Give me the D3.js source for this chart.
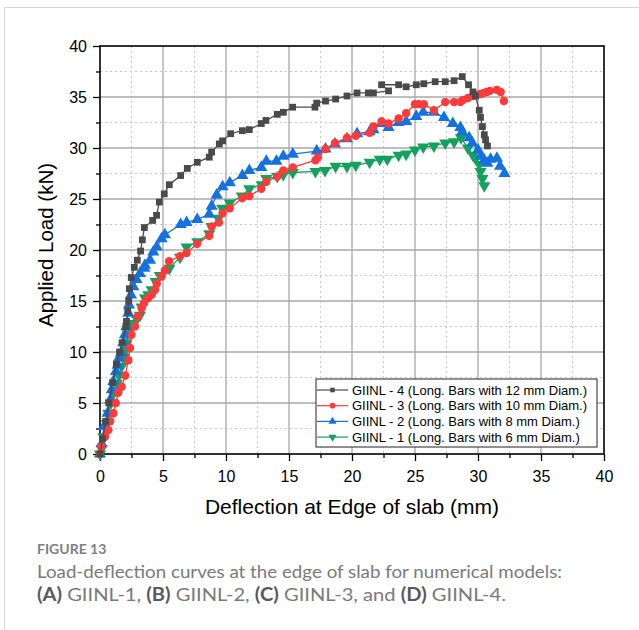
<!DOCTYPE html>
<html>
<head>
<meta charset="utf-8">
<script src="https://cdn.jsdelivr.net/npm/d3@7"></script>
<style>
  body { margin: 0; background: #fff; }
  svg { display: block; }
</style>
</head>
<body>
<div id="chart"></div>
<script>
// ---------------------------- DATA ----------------------------
const xTicks = [0, 5, 10, 15, 20, 25, 30, 35, 40];
const yTicks = [0, 5, 10, 15, 20, 25, 30, 35, 40];
const seriesNames = [
  "GIINL - 4 (Long. Bars with 12 mm Diam.)",
  "GIINL - 3 (Long. Bars with 10 mm Diam.)",
  "GIINL - 2 (Long. Bars with 8 mm Diam.)",
  "GIINL - 1 (Long. Bars with 6 mm Diam.)"
];

// GIINL-4 : deflection (mm) / load (kN)
const g4x = [0, 0.2, 0.45, 0.7, 1.0, 1.3, 1.55, 1.75, 2.05, 2.1, 2.2, 2.28, 2.33, 2.48, 2.72, 2.96, 3.22, 3.36, 3.52, 4.18,
  4.49, 4.71, 5.1, 5.5, 6.4, 6.93, 7.72, 8.67, 8.86, 9.47, 9.73, 10.37, 11.3, 11.85, 12.8, 13.17, 14.07, 14.55, 15.29, 17.06,
  17.2, 17.9, 18.7, 19.6, 20.4, 21.3, 21.7, 22.9, 22.35, 23.7, 24.3, 25.1, 25.7, 26.6, 27.4, 28.1, 28.75, 29.25, 29.6, 29.8,
  30.1, 30.2, 30.35, 30.5, 30.6, 30.75];
const g4y = [0, 1.5, 3.2, 5.0, 7.0, 8.8, 10.0, 10.9, 12.5, 13.0, 14.0, 15.0, 16.2, 17.3, 18.3, 19.0, 19.9, 21.0, 22.2, 22.9,
  23.4, 24.7, 25.5, 26.4, 27.3, 28.0, 28.6, 29.1, 29.6, 30.4, 30.7, 31.4, 31.7, 31.8, 32.4, 32.7, 33.3, 33.5, 34.0, 34.0,
  34.4, 34.6, 34.8, 35.1, 35.4, 35.4, 35.4, 35.6, 36.2, 36.2, 36.0, 36.2, 36.3, 36.5, 36.5, 36.6, 37.0, 36.2, 35.5, 35.1,
  33.7, 33.0, 32.1, 31.3, 30.8, 30.2];

// GIINL-3
const g3x = [0, 0.08, 0.4, 0.66, 0.8, 1.06, 1.25, 1.45, 1.72, 2.0, 2.25, 2.38, 2.5, 2.78, 3.03, 3.3, 3.5, 3.83, 4.1, 4.37,
  4.5, 4.89, 5.15, 5.48, 6.35, 6.87, 7.7, 8.67, 8.86, 9.44, 9.73, 10.3, 11.3, 11.85, 12.8, 13.2, 14.07, 14.55, 15.3, 17.1,
  17.3, 17.9, 18.65, 19.6, 20.3, 21.4, 21.7, 22.35, 22.9, 23.7, 24.3, 25.0, 25.3, 25.7, 26.5, 27.4, 28.1, 28.6, 28.8, 29.2,
  29.6, 29.9, 30.2, 30.45, 30.7, 30.95, 31.5, 31.8, 32.05];
const g3y = [0, 0.7, 1.7, 2.35, 3.2, 4.0, 5.0, 6.0, 6.6, 7.7, 9.2, 10.4, 11.7, 12.5, 13.5, 14.3, 14.8, 15.3, 15.6, 16.1,
  16.7, 17.4, 18.0, 18.9, 19.4, 19.7, 20.6, 21.4, 22.3, 22.7, 23.6, 24.1, 25.1, 25.3, 26.0, 26.7, 27.2, 27.8, 28.1, 28.8,
  29.1, 29.9, 30.5, 31.0, 31.2, 31.5, 32.1, 32.6, 32.4, 32.9, 33.4, 34.3, 34.3, 34.3, 33.7, 34.5, 34.5, 34.5, 34.7, 34.9,
  35.1, 35.2, 35.3, 35.4, 35.5, 35.6, 35.7, 35.5, 34.6];

// GIINL-2
const g2x = [0, 0.13, 0.32, 0.6, 0.8, 0.93, 1.06, 1.27, 1.4, 1.5, 1.67, 1.85, 1.98, 2.1, 2.25, 2.3, 2.46, 2.65, 2.9, 3.17,
  3.52, 3.57, 3.97, 4.23, 4.5, 4.89, 5.15, 6.4, 6.87, 7.72, 8.67, 8.86, 9.26, 9.73, 10.3, 11.3, 11.85, 12.8, 13.2, 14.0,
  14.55, 15.3, 17.2, 17.9, 18.65, 19.6, 20.4, 21.4, 21.7, 22.35, 22.9, 23.7, 24.3, 25.1, 25.65, 26.5, 27.3, 28.0, 28.6, 28.75,
  29.3, 29.55, 30.0, 30.25, 30.5, 30.75, 31.0, 31.5, 31.75, 32.1];
const g2y = [0, 1.0, 2.7, 4.0, 5.3, 6.3, 7.1, 8.1, 8.7, 9.4, 9.9, 10.9, 11.7, 12.5, 13.8, 14.6, 15.6, 16.4, 17.1, 17.7,
  18.2, 18.5, 19.0, 19.8, 20.3, 21.1, 21.5, 22.5, 22.7, 23.0, 23.5, 24.3, 25.4, 26.2, 26.6, 27.3, 27.8, 28.1, 28.7, 28.7,
  29.2, 29.4, 29.7, 29.9, 30.4, 30.9, 31.4, 31.6, 31.8, 32.4, 32.0, 32.5, 32.6, 33.1, 33.5, 33.5, 33.0, 32.4, 32.0, 31.6,
  31.0, 30.5, 29.8, 29.2, 28.8, 28.5, 28.9, 29.0, 28.2, 27.5];

// GIINL-1
const g1x = [0, 0.13, 0.26, 0.53, 0.66, 0.87, 1.06, 1.32, 1.5, 1.72, 1.93, 2.03, 2.1, 2.19, 2.38, 2.72, 2.9, 3.17, 3.3, 3.57,
  3.83, 4.1, 4.42, 4.75, 5.5, 6.35, 6.87, 7.72, 8.67, 8.86, 9.4, 9.7, 10.3, 11.25, 11.85, 12.83, 13.2, 14.07, 14.55, 15.3,
  17.1, 17.86, 18.7, 19.6, 20.3, 21.4, 22.2, 22.8, 23.7, 24.3, 25.0, 25.65, 26.5, 27.4, 28.1, 28.65, 29.2, 29.6, 29.8, 30.1,
  30.2, 30.35, 30.5];
const g1y = [0, 0.55, 1.7, 3.0, 4.0, 5.0, 5.9, 6.9, 7.7, 8.6, 9.5, 10.2, 10.9, 11.8, 12.5, 12.8, 13.3, 13.6, 14.4, 15.3,
  15.6, 16.1, 16.9, 17.5, 18.2, 19.3, 20.3, 20.8, 21.6, 22.3, 23.1, 24.1, 24.6, 25.3, 26.0, 26.4, 27.0, 27.2, 27.4, 27.6,
  27.7, 27.8, 28.2, 28.2, 28.3, 28.6, 28.9, 28.9, 29.3, 29.4, 29.8, 30.1, 30.2, 30.5, 30.6, 31.0, 30.0, 29.3, 29.0, 28.4,
  27.7, 27.0, 26.3];

// --------------------------- LAYOUT ---------------------------
const W = 639, H = 630;
const plot = { left: 100, top: 46, right: 604, bottom: 454 };
const axisFont = "'Liberation Sans', Arial, sans-serif";

const svg = d3.select("#chart").append("svg")
  .attr("width", W)
  .attr("height", H);

svg.append("rect").attr("width", W).attr("height", H).attr("fill", "#fff");

// card outline (top and left edges are visible)
svg.append("path")
  .attr("d", "M4.5," + H + " V7.5 H" + W)
  .attr("fill", "none")
  .attr("stroke", "#d4d4d4")
  .attr("stroke-width", 1);

// --------------------------- SCALES ---------------------------
const x = d3.scaleLinear().domain([0, 40]).range([plot.left, plot.right]);
const y = d3.scaleLinear().domain([0, 40]).range([plot.bottom, plot.top]);
const minorVals = d3.range(2.5, 40, 5);

// ---------------------------- GRID ----------------------------
const grid = svg.append("g").attr("class", "grid");
grid.selectAll(".vminor").data(minorVals).enter().append("line")
  .attr("x1", d => x(d)).attr("x2", d => x(d))
  .attr("y1", plot.top).attr("y2", plot.bottom)
  .attr("stroke", "#c8c8c8").attr("stroke-dasharray", "2,3");
grid.selectAll(".hminor").data(minorVals).enter().append("line")
  .attr("y1", d => y(d)).attr("y2", d => y(d))
  .attr("x1", plot.left).attr("x2", plot.right)
  .attr("stroke", "#c8c8c8").attr("stroke-dasharray", "2,3");
grid.selectAll(".vmajor").data(xTicks.slice(1, -1)).enter().append("line")
  .attr("x1", d => x(d)).attr("x2", d => x(d))
  .attr("y1", plot.top).attr("y2", plot.bottom)
  .attr("stroke", "#a8a8a8").attr("stroke-width", 1.3);
grid.selectAll(".hmajor").data(yTicks.slice(1, -1)).enter().append("line")
  .attr("y1", d => y(d)).attr("y2", d => y(d))
  .attr("x1", plot.left).attr("x2", plot.right)
  .attr("stroke", "#a8a8a8").attr("stroke-width", 1.3);

// ---------------------------- AXES ----------------------------
function styleAxis(g) {
  g.select(".domain").remove();
  g.selectAll("line").attr("stroke", "#000").attr("stroke-width", 1.3);
  g.selectAll("text").attr("font-family", axisFont).attr("font-size", 16).attr("fill", "#000");
}

svg.append("g")
  .attr("transform", "translate(" + plot.left + ",0)")
  .call(d3.axisLeft(y).tickValues(yTicks).tickSize(7).tickPadding(6).tickFormat(d3.format("d")))
  .call(styleAxis);
svg.append("g")
  .attr("transform", "translate(" + plot.left + ",0)")
  .call(d3.axisLeft(y).tickValues(minorVals).tickSize(4).tickFormat(""))
  .call(styleAxis);
svg.append("g")
  .attr("transform", "translate(0," + plot.bottom + ")")
  .call(d3.axisBottom(x).tickValues(xTicks).tickSize(7).tickPadding(10).tickFormat(d3.format("d")))
  .call(styleAxis);
svg.append("g")
  .attr("transform", "translate(0," + plot.bottom + ")")
  .call(d3.axisBottom(x).tickValues(minorVals).tickSize(4).tickFormat(""))
  .call(styleAxis);

// frame
svg.append("rect")
  .attr("x", plot.left).attr("y", plot.top)
  .attr("width", plot.right - plot.left).attr("height", plot.bottom - plot.top)
  .attr("fill", "none").attr("stroke", "#000").attr("stroke-width", 1.6);

// axis titles
svg.append("text")
  .attr("x", (plot.left + plot.right) / 2).attr("y", 514)
  .attr("text-anchor", "middle")
  .attr("font-family", axisFont).attr("font-size", 21)
  .text("Deflection at Edge of slab (mm)");
svg.append("text")
  .attr("transform", "translate(53," + ((plot.top + plot.bottom) / 2 - 5) + ") rotate(-90)")
  .attr("text-anchor", "middle")
  .attr("font-family", axisFont).attr("font-size", 20.5)
  .text("Applied Load (kN)");

// --------------------------- SERIES ---------------------------
const series = [
  { name: seriesNames[0], xs: g4x, ys: g4y, color: "#4a4a4a", symbol: d3.symbolSquare, size: 46, rot: 0 },
  { name: seriesNames[1], xs: g3x, ys: g3y, color: "#ff3a3a", symbol: d3.symbolCircle, size: 56, rot: 0 },
  { name: seriesNames[2], xs: g2x, ys: g2y, color: "#1570e0", symbol: d3.symbolTriangle, size: 64, rot: 0 },
  { name: seriesNames[3], xs: g1x, ys: g1y, color: "#12a25c", symbol: d3.symbolTriangle, size: 64, rot: 180 }
];

const line = d3.line().x(d => x(d[0])).y(d => y(d[1]));

// draw from GIINL-1 up so GIINL-4 ends on top
series.slice().reverse().forEach(function (s) {
  const pts = s.xs.map((v, i) => [v, s.ys[i]]);
  const g = svg.append("g");
  g.append("path")
    .attr("d", line(pts))
    .attr("fill", "none")
    .attr("stroke", s.color)
    .attr("stroke-width", 1.3);
  g.selectAll("path.pt").data(pts).enter().append("path")
    .attr("class", "pt")
    .attr("d", d3.symbol().type(s.symbol).size(s.size))
    .attr("transform", d => "translate(" + x(d[0]) + "," + y(d[1]) + ") rotate(" + s.rot + ")")
    .attr("fill", s.color);
});

// --------------------------- LEGEND ---------------------------
const legend = svg.append("g").attr("transform", "translate(316,379)");
legend.append("rect")
  .attr("width", 281).attr("height", 68)
  .attr("fill", "#fff").attr("stroke", "#222").attr("stroke-width", 1);
series.forEach(function (s, i) {
  const ly = 11 + i * 15.7;
  legend.append("line")
    .attr("x1", 1).attr("x2", 32).attr("y1", ly).attr("y2", ly)
    .attr("stroke", s.color).attr("stroke-width", 1.2);
  legend.append("path")
    .attr("d", d3.symbol().type(s.symbol).size(s.size * 0.45))
    .attr("transform", "translate(16.5," + ly + ") rotate(" + s.rot + ")")
    .attr("fill", s.color);
  legend.append("text")
    .attr("x", 36).attr("y", ly + 4.5)
    .attr("font-family", axisFont).attr("font-size", 13)
    .attr("fill", "#000")
    .text(s.name);
});

// --------------------------- CAPTION --------------------------
const capFont = "Lato, 'Open Sans', sans-serif";
svg.append("text")
  .attr("x", 37).attr("y", 554)
  .attr("font-family", capFont).attr("font-size", 14).attr("font-weight", 700)
  .attr("fill", "#808080")
  .text("FIGURE 13");
svg.append("text")
  .attr("x", 37).attr("y", 578)
  .attr("font-family", capFont).attr("font-size", 18)
  .attr("fill", "#7a7a7a")
  .attr("textLength", 525).attr("lengthAdjust", "spacingAndGlyphs")
  .text("Load-deflection curves at the edge of slab for numerical models:");
const cap3 = svg.append("text")
  .attr("x", 37).attr("y", 601)
  .attr("font-family", capFont).attr("font-size", 18)
  .attr("fill", "#7a7a7a")
  .attr("textLength", 469).attr("lengthAdjust", "spacingAndGlyphs");
[["(A)", true], [" GIINL-1, ", false], ["(B)", true], [" GIINL-2, ", false], ["(C)", true],
 [" GIINL-3, and ", false], ["(D)", true], [" GIINL-4.", false]].forEach(function (p) {
  cap3.append("tspan")
    .attr("font-weight", p[1] ? 700 : 400)
    .attr("fill", p[1] ? "#5a5a5a" : "#7a7a7a")
    .text(p[0]);
});
</script>
</body>
</html>
